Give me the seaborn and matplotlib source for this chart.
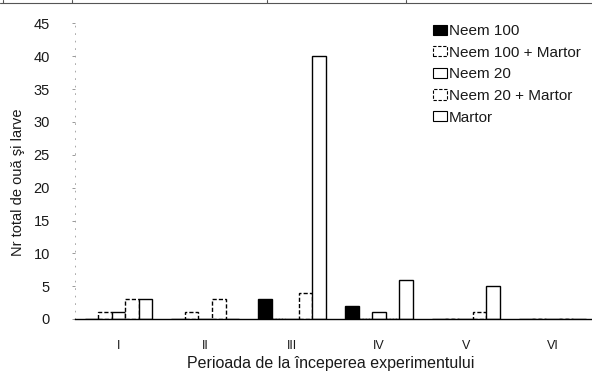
import matplotlib
matplotlib.use("Agg")
import matplotlib.pyplot as plt
import seaborn as sns
import pandas as pd
from matplotlib.patches import Patch
from matplotlib.lines import Line2D

periods = ["I", "II", "III", "IV", "V", "VI"]
series_names = ["Neem 100", "Neem 100 + Martor", "Neem 20", "Neem 20 + Martor", "Martor"]
neem100 = [0, 0, 3, 2, 0, 0]
neem100_martor = [1, 1, 0, 0, 0, 0]
neem20 = [1, 0, 0, 1, 0, 0]
neem20_martor = [3, 3, 4, 0, 1, 0]
martor = [3, 0, 40, 6, 5, 0]
y_ticks = [0, 5, 10, 15, 20, 25, 30, 35, 40, 45]

values = [neem100, neem100_martor, neem20, neem20_martor, martor]
rows = []
for name, vals in zip(series_names, values):
    for p, v in zip(periods, vals):
        rows.append({"Perioada": p, "Valoare": v, "Serie": name})
df = pd.DataFrame(rows)

sns.set_theme(style="white")
plt.rcParams["font.family"] = ["Liberation Sans", "DejaVu Sans"]
txt = "#1a1a1a"

fig = plt.figure(figsize=(5.92, 3.77), dpi=100)
W, H = 592, 377
ax = fig.add_axes([75 / W, 58 / H, 521 / W, 295.5 / H])

faces = ["black", "white", "white", "white", "white"]
styles = ["solid", (0, (3, 1.5)), "solid", (0, (3, 1.5)), "solid"]

sns.barplot(data=df, x="Perioada", y="Valoare", hue="Serie", order=periods,
            hue_order=series_names, palette=["black", "white", "white", "white", "white"],
            width=0.78, dodge=True, errorbar=None, legend=False, ax=ax, saturation=1)

for cont, fc, ls in zip(ax.containers, faces, styles):
    for bar in cont:
        bar.set_facecolor(fc)
        bar.set_edgecolor("black")
        bar.set_linewidth(1.0)
        bar.set_linestyle(ls)

ax.set_xlim(-0.5, 5.5)
ax.set_ylim(0, 45)
ax.set_yticks(y_ticks)
ax.set_yticklabels([str(t) for t in y_ticks], fontsize=10.5, color=txt)
ax.tick_params(axis="y", length=2, width=0.6, color="#888888", pad=16, left=True)
ax.tick_params(axis="x", length=0, pad=15, labelsize=9, labelcolor=txt)

for s in ["top", "right"]:
    ax.spines[s].set_visible(False)
ax.spines["bottom"].set_color("black")
ax.spines["bottom"].set_linewidth(1.0)
ax.spines["left"].set_color("#999999")
ax.spines["left"].set_linewidth(0.6)
ax.spines["left"].set_linestyle((0, (1, 8)))

ax.set_xlabel("Perioada de la începerea experimentului", fontsize=11.5, color=txt)
ax.xaxis.set_label_coords(0.491, -0.150)
ax.xaxis.label.set_va("center")
ax.set_ylabel("Nr total de ouă şi larve", fontsize=10.5, color=txt)
ax.yaxis.set_label_coords(-0.110, 0.464)
ax.yaxis.label.set_va("center")

handles = []
for fc, ls in zip(faces, styles):
    handles.append(Patch(facecolor=fc, edgecolor="black", linewidth=0.8, linestyle=ls))
leg = fig.legend(handles, series_names, loc="upper left",
                 bbox_to_anchor=(433 / W, 1 - 24 / H), bbox_transform=fig.transFigure,
                 frameon=False, fontsize=11, handlelength=0.9, handleheight=0.65,
                 handletextpad=0.15, labelspacing=0.5, borderpad=0, borderaxespad=0)
for t in leg.get_texts():
    t.set_color(txt)

# border of the table above the chart
fig.add_artist(Line2D([0, 1], [1 - 3 / H, 1 - 3 / H], color="#555555", lw=0.8,
                      transform=fig.transFigure))
for xv in [3, 72, 267, 406]:
    fig.add_artist(Line2D([xv / W, xv / W], [1, 1 - 3 / H], color="#555555", lw=0.8,
                          transform=fig.transFigure))

fig.savefig("out.png", dpi=100)
